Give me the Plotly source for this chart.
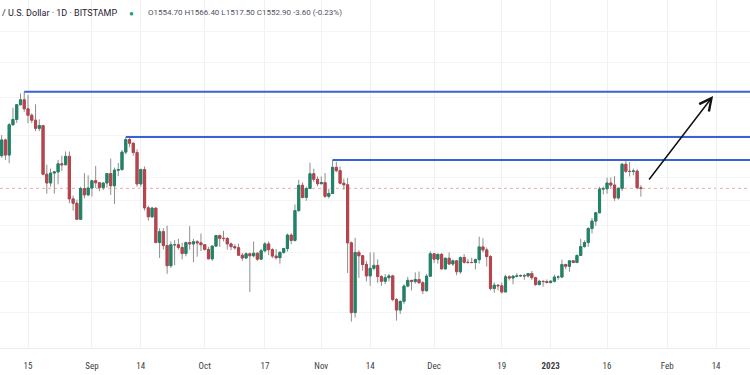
import math
import pandas as pd
import plotly.graph_objects as go

# ---------------- data (ETH / USD, 1D, Bitstamp) ----------------
start_date = "2022-08-08"
end_date = "2023-01-25"

open_ = [
    # Aug 8-31
    1700, 1776, 1703, 1852, 1880, 1958, 1985, 1936, 1902, 1876, 1834, 1848,
    1615, 1576, 1620, 1625, 1662, 1658, 1697, 1508, 1490, 1425, 1552, 1525,
    # Sep
    1554, 1586, 1577, 1556, 1576, 1618, 1564, 1633, 1636, 1717, 1778, 1760,
    1715, 1572, 1636, 1471, 1435, 1470, 1336, 1377, 1325, 1253, 1328, 1328,
    1318, 1296, 1336, 1331, 1339, 1335,
    # Oct
    1328, 1311, 1277, 1323, 1362, 1352, 1351, 1331, 1321, 1317, 1290, 1280,
    1295, 1288, 1297, 1276, 1306, 1331, 1310, 1287, 1281, 1300, 1314, 1364,
    1344, 1460, 1566, 1514, 1552, 1617, 1592,
    # Nov
    1573, 1578, 1519, 1531, 1646, 1631, 1575, 1568, 1335, 1100, 1300, 1288,
    1257, 1218, 1244, 1254, 1216, 1200, 1212, 1218, 1141, 1108, 1135, 1184,
    1203, 1199, 1206, 1195, 1169, 1217,
    # Dec
    1295, 1276, 1293, 1242, 1279, 1259, 1270, 1232, 1282, 1265, 1264, 1264,
    1274, 1320, 1309, 1285, 1176, 1187, 1185, 1165, 1215, 1211, 1217, 1218,
    1219, 1218, 1226, 1212, 1189, 1200, 1199,
    # Jan
    1196, 1200, 1214, 1214, 1257, 1251, 1270, 1264, 1289, 1321, 1336, 1389,
    1418, 1451, 1550, 1551, 1576, 1567, 1512, 1553, 1660, 1628, 1627, 1629,
    1554.7,
]
high = [
    1800, 1782, 1862, 1942, 1962, 2020, 2030, 2012, 1912, 1960, 1880, 1850,
    1658, 1640, 1630, 1680, 1700, 1720, 1720, 1522, 1505, 1560, 1620, 1610,
    1590, 1652, 1580, 1578, 1620, 1686, 1645, 1666, 1727, 1790, 1789, 1763,
    1730, 1640, 1650, 1480, 1475, 1470, 1390, 1390, 1400, 1340, 1345, 1350,
    1335, 1340, 1398, 1350, 1345, 1370,
    1330, 1320, 1325, 1365, 1366, 1380, 1357, 1336, 1330, 1332, 1298, 1300,
    1300, 1340, 1300, 1313, 1338, 1340, 1315, 1312, 1305, 1317, 1370, 1371,
    1485, 1590, 1578, 1560, 1667, 1640, 1605,
    1605, 1620, 1551, 1680, 1672, 1650, 1595, 1598, 1340, 1354, 1308, 1292,
    1270, 1300, 1300, 1275, 1220, 1224, 1225, 1222, 1145, 1137, 1190, 1215,
    1204, 1230, 1233, 1200, 1225, 1304,
    1297, 1296, 1298, 1282, 1300, 1275, 1271, 1285, 1294, 1276, 1281, 1278,
    1358, 1352, 1318, 1290, 1196, 1190, 1196, 1222, 1220, 1220, 1227, 1223,
    1225, 1228, 1235, 1215, 1205, 1202, 1206,
    1204, 1222, 1220, 1274, 1260, 1273, 1272, 1293, 1350, 1344, 1394, 1430,
    1455, 1560, 1561, 1600, 1600, 1606, 1557, 1667, 1680, 1670, 1640, 1637,
    1566.4,
]
low = [
    1690, 1680, 1665, 1850, 1862, 1955, 1920, 1860, 1860, 1820, 1820, 1610,
    1530, 1560, 1530, 1570, 1630, 1655, 1490, 1460, 1422, 1423, 1510, 1520,
    1518, 1555, 1540, 1545, 1556, 1525, 1487, 1606, 1630, 1706, 1740, 1700,
    1560, 1560, 1460, 1420, 1430, 1335, 1280, 1310, 1225, 1245, 1255, 1310,
    1275, 1286, 1310, 1265, 1285, 1305,
    1307, 1276, 1270, 1320, 1320, 1340, 1310, 1308, 1310, 1290, 1270, 1276,
    1165, 1282, 1270, 1273, 1300, 1290, 1280, 1275, 1260, 1295, 1303, 1330,
    1340, 1455, 1510, 1500, 1551, 1580, 1562,
    1570, 1512, 1510, 1530, 1624, 1570, 1547, 1228, 1073, 1085, 1211, 1236,
    1200, 1185, 1237, 1195, 1185, 1190, 1200, 1135, 1076, 1096, 1127, 1180,
    1170, 1192, 1193, 1158, 1166, 1215,
    1262, 1260, 1240, 1240, 1256, 1252, 1220, 1225, 1260, 1261, 1262, 1240,
    1260, 1300, 1250, 1170, 1162, 1170, 1160, 1165, 1203, 1190, 1213, 1215,
    1205, 1213, 1205, 1185, 1187, 1182, 1192,
    1192, 1196, 1205, 1213, 1240, 1232, 1263, 1262, 1288, 1318, 1320, 1370,
    1400, 1450, 1527, 1530, 1550, 1500, 1505, 1541, 1621, 1605, 1610, 1549,
    1517.5,
]
close = [
    1776, 1703, 1852, 1880, 1958, 1985, 1936, 1902, 1876, 1834, 1848, 1615,
    1576, 1620, 1625, 1662, 1658, 1697, 1508, 1490, 1425, 1552, 1525, 1554,
    1586, 1577, 1556, 1576, 1618, 1564, 1633, 1636, 1717, 1778, 1760, 1715,
    1572, 1636, 1471, 1435, 1470, 1336, 1377, 1325, 1253, 1328, 1328, 1318,
    1296, 1336, 1331, 1339, 1335, 1328,
    1311, 1277, 1323, 1362, 1352, 1351, 1331, 1321, 1317, 1290, 1280, 1295,
    1288, 1297, 1276, 1306, 1331, 1310, 1287, 1281, 1300, 1314, 1364, 1344,
    1460, 1566, 1514, 1552, 1617, 1592, 1573,
    1578, 1519, 1531, 1646, 1631, 1575, 1568, 1335, 1100, 1300, 1288, 1257,
    1218, 1244, 1254, 1216, 1200, 1212, 1218, 1141, 1108, 1135, 1184, 1203,
    1199, 1206, 1195, 1169, 1217, 1295,
    1276, 1293, 1242, 1279, 1259, 1270, 1232, 1282, 1265, 1264, 1264, 1274,
    1320, 1309, 1285, 1176, 1187, 1185, 1165, 1215, 1211, 1217, 1218, 1219,
    1218, 1226, 1212, 1189, 1200, 1199, 1196,
    1200, 1214, 1214, 1257, 1251, 1270, 1264, 1289, 1321, 1336, 1389, 1418,
    1451, 1550, 1551, 1576, 1567, 1512, 1553, 1660, 1628, 1627, 1629, 1556,
    1552.9,
]

# x-axis tick labels
tick_dates = ["2022-08-15", "2022-09-01", "2022-09-14", "2022-10-01", "2022-10-17",
              "2022-11-01", "2022-11-14", "2022-12-01", "2022-12-19", "2023-01-01",
              "2023-01-16", "2023-02-01", "2023-02-14"]
tick_labels = ["15", "Sep", "14", "Oct", "17", "Nov", "14", "Dec", "19",
               "<b>2023</b>", "16", "Feb", "14"]

# resistance levels (start date, price)
level_starts = ["2022-08-14", "2022-09-10", "2022-11-04"]
level_prices = [2030, 1790, 1680]
level_end = "2023-03-31"

# projection arrow
arrow_start = ("2023-01-26 21:00", 1585)
arrow_end = ("2023-02-13 05:00", 2006)

header_title = "/ U.S. Dollar · 1D · BITSTAMP"
header_ohlc = "O1554.70 H1566.40 L1517.50 C1552.90 -3.60 (-0.23%)"

# ---------------- figure ----------------
dates = pd.date_range(start_date, end_date, freq="D")
body_top = [max(o, c) for o, c in zip(open_, close)]
body_bot = [min(o, c) for o, c in zip(open_, close)]

GREEN = "#1f8468"
RED = "#b9434d"
WICK = "#8d8d8d"
BLUE = "#3a62d6"

fig = go.Figure()

# wicks
fig.add_trace(go.Candlestick(
    x=dates, open=open_, high=high, low=low, close=close,
    increasing=dict(line=dict(color=WICK, width=1), fillcolor=WICK),
    decreasing=dict(line=dict(color=WICK, width=1), fillcolor=WICK),
    whiskerwidth=0, showlegend=False, hoverinfo="skip", name="wick"))
# bodies
fig.add_trace(go.Candlestick(
    x=dates, open=open_, high=body_top, low=body_bot, close=close,
    increasing=dict(line=dict(color=GREEN, width=1), fillcolor=GREEN),
    decreasing=dict(line=dict(color=RED, width=1), fillcolor=RED),
    whiskerwidth=0, showlegend=False, name="body"))

for s, p in zip(level_starts, level_prices):
    fig.add_trace(go.Scatter(x=[s, level_end], y=[p, p], mode="lines",
                             line=dict(color=BLUE, width=2), showlegend=False,
                             hoverinfo="skip"))

# current price line
fig.add_shape(type="line", xref="paper", x0=0, x1=1, yref="y",
              y0=close[-1], y1=close[-1],
              line=dict(color="#f3a5a5", width=1, dash="dot"), layer="below")

fig.add_annotation(x=arrow_end[0], y=math.log10(arrow_end[1]),
                   ax=arrow_start[0], ay=math.log10(arrow_start[1]),
                   xref="x", yref="y", axref="x", ayref="y",
                   showarrow=True, arrowhead=5, arrowsize=1.6, arrowwidth=1.5,
                   arrowcolor="#111111", text="")

PLOT_H = 348
fig.add_annotation(xref="paper", yref="paper", x=0, y=1 - 13 / PLOT_H,
                   xanchor="left", yanchor="middle", showarrow=False,
                   text=header_title,
                   font=dict(family="Roboto, Arial", size=9, color="#1e222d"))
fig.add_annotation(xref="paper", yref="paper", x=131 / 750, y=1 - 13 / PLOT_H,
                   xanchor="center", yanchor="middle", showarrow=False,
                   text="●", font=dict(size=8, color="#1e9e78"))
fig.add_annotation(xref="paper", yref="paper", x=146 / 750, y=1 - 13 / PLOT_H,
                   xanchor="left", yanchor="middle", showarrow=False,
                   text=header_ohlc,
                   font=dict(family="Roboto, Arial", size=8, color="#50535e"))

fig.update_layout(
    width=750, height=375,
    margin=dict(l=0, r=0, t=0, b=375 - PLOT_H),
    paper_bgcolor="white", plot_bgcolor="white",
    boxgap=0.2,
    xaxis=dict(
        type="date", rangeslider=dict(visible=False),
        range=["2022-08-07 13:16", "2023-02-23 00:30"],
        tickmode="array", tickvals=tick_dates, ticktext=tick_labels,
        tickfont=dict(family="Liberation Sans Narrow, Roboto Condensed, Roboto", size=9,
                      color="#3d3d3d"),
        ticks="outside", ticklen=9, tickcolor="rgba(0,0,0,0)",
        showgrid=True, gridcolor="#f1f1f1", gridwidth=1,
        showline=True, linecolor="#ececec", linewidth=1,
        zeroline=False, fixedrange=True,
    ),
    yaxis=dict(
        type="log", range=[2.9988, 3.4180],
        showticklabels=False, ticks="",
        tickvals=[1100, 1200, 1300, 1400, 1500, 1600, 1800, 2000, 2200, 2400],
        showgrid=True, gridcolor="#f4f4f4", zeroline=False, fixedrange=True,
    ),
    showlegend=False,
)

fig.write_html(
    "out.html",
    config={"displayModeBar": False},
    post_script="document.body.style.margin='0px';document.body.style.overflow='hidden';",
)
